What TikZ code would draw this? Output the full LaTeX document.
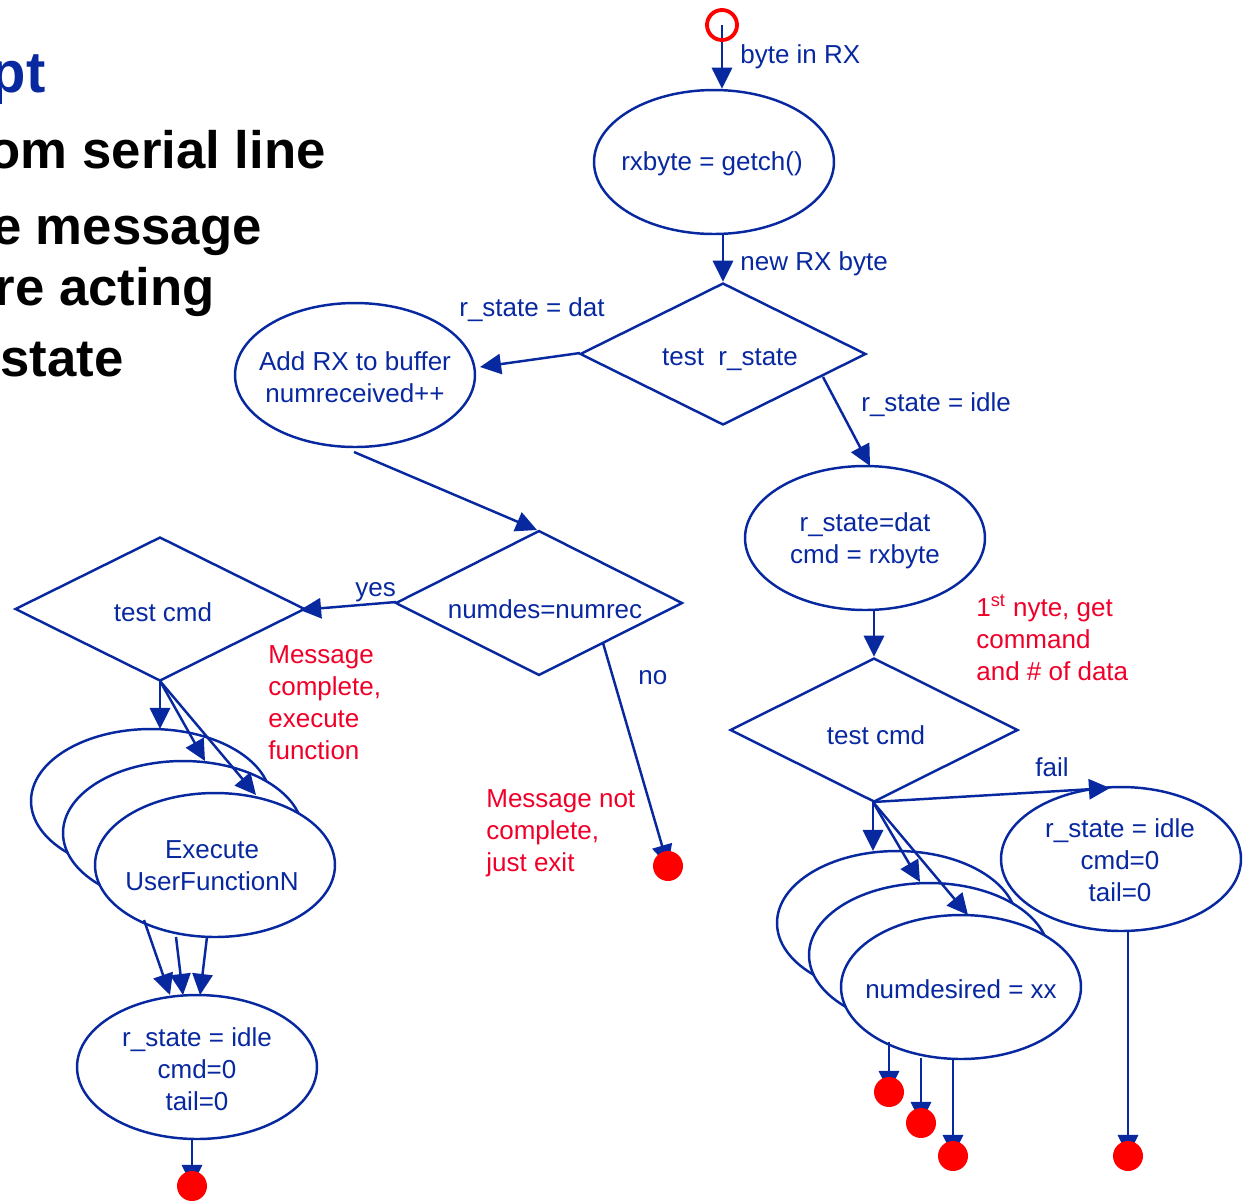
\documentclass[tikz,border=0pt]{standalone}
\usepackage{fontspec}
\setmainfont{Liberation Sans}
\usetikzlibrary{shapes.geometric,arrows.meta}
\definecolor{fblue}{RGB}{8,40,160}
\definecolor{fred}{RGB}{240,0,40}
\definecolor{dotred}{RGB}{255,0,0}
\newcommand\flowfont{\fontsize{14.8}{18.1}\selectfont}
\newcommand\headfont{\fontsize{30}{34}\selectfont\bfseries}
\newcommand\titlefont{\fontsize{33}{38}\selectfont\bfseries}
\tikzset{
  flow/.style={draw=fblue, line width=1.4pt, -{Triangle[length=12pt,width=11.5pt]}},
  ell/.style={ellipse, draw=fblue, line width=1.4pt, fill=white, minimum width=4.8cm,
    minimum height=2.88cm, inner sep=0pt},
  dia/.style={diamond, draw=fblue, line width=1.4pt, inner sep=0pt},
  lbl/.style={text=fblue, font=\flowfont, inner sep=0pt, align=center},
  lblw/.style={lbl, anchor=base west},
  note/.style={text=fred, font=\flowfont, inner sep=0pt, anchor=base west},
  enddot/.style={circle, fill=dotred, minimum size=0.6cm, inner sep=0pt},
  big/.style={font=\headfont, inner sep=0pt, anchor=base east},
}
\begin{document}
\begin{tikzpicture}[x=0.02cm,y=-0.02cm]
\useasboundingbox (0,0) rectangle (1247,1201);
\clip (0,0) rectangle (1247,1201);

% heading text at left (cut by page edge)
\node[big, font=\titlefont, text=fblue] (h0) at (46,92) {pt};
\node[big] (h1) at (326,168) {om serial line};
\node[big] (h2) at (262,244) {e message};
\node[big] (h3) at (215,305) {re acting};
\node[big] (h4) at (124,376) {state};

% ellipses
\node[ell] (e1) at (714,162) {};
\node[lbl] (e1t) at (712,164) {rxbyte = getch()};
\node[ell] (e2) at (355,375) {};
\node[lbl] (e2t) at (355,377) {Add RX to buffer\\numreceived++};
\node[ell] (e3) at (865,538) {};
\node[lbl] (e3t) at (865,541) {r\_state=dat\\cmd = rxbyte};
\node[ell] (ex1) at (151,801) {};
\node[ell] (ex2) at (183,833) {};
\node[ell] (ex3) at (215,865) {};
\node[lbl] (ex3t) at (212,866) {Execute\\UserFunctionN};
\node[ell] (e5) at (197,1067) {};
\node[lbl] (e5t) at (197,1069) {r\_state = idle\\cmd=0\\tail=0};
\node[ell] (nd1) at (897,923) {};
\node[ell] (nd2) at (929,955) {};
\node[ell] (nd3) at (961,987) {};
\node[lbl] (nd3t) at (961,989) {numdesired = xx};
\node[ell] (e6) at (1121,859) {};
\node[lbl] (e6t) at (1120,860) {r\_state = idle\\cmd=0\\tail=0};

% diamonds
\node[dia, minimum width=5.72cm, minimum height=2.84cm] (d1) at (723,354) {};
\node[lbl] (d1t) at (730,360) {test\ \ r\_state};
\node[dia, minimum width=5.74cm, minimum height=2.9cm] (d2) at (539,603) {};
\node[lbl] (d2t) at (545,609) {numdes=numrec};
\node[dia, minimum width=5.8cm, minimum height=2.88cm] (d3) at (160,609) {};
\node[lbl] (d3t) at (163,612) {test cmd};
\node[dia, minimum width=5.76cm, minimum height=2.88cm] (d4) at (874,730) {};
\node[lbl] (d4t) at (876,735) {test cmd};

% connector end points
\coordinate (s0) at (722,25);
\coordinate (a3s) at (580,353);
\coordinate (a3e) at (480,367);
\coordinate (a4s) at (354,452);
\coordinate (a4e) at (537,530);
\coordinate (a5s) at (823,377);
\coordinate (a5e) at (870,466);
\coordinate (a7s) at (396,602);
\coordinate (a7e) at (300,610);
\coordinate (a8s) at (603,643);
\coordinate (lb) at (160,681);
\coordinate (lt1) at (160,729);
\coordinate (lt2) at (205,761);
\coordinate (lt3) at (256,795);
\coordinate (lf1) at (144,920);
\coordinate (lf2) at (176,937);
\coordinate (lf3) at (207,937);
\coordinate (lg1) at (170,995);
\coordinate (lg2) at (183,995);
\coordinate (lg3) at (200,995);
\coordinate (rb) at (873,802);
\coordinate (rfail) at (1110,788);
\coordinate (rt1) at (873,851);
\coordinate (rt2) at (920,882);
\coordinate (rt3) at (968,915);
\coordinate (rf1) at (889,1042);
\coordinate (rf2) at (921,1058);
\coordinate (rf3) at (953,1059);
\coordinate (p0) at (668,866);
\coordinate (p1) at (192,1186);
\coordinate (p2) at (889,1092);
\coordinate (p3) at (921,1123);
\coordinate (p4) at (953,1156);
\coordinate (p5) at (1128,1156);

% connectors
\draw[flow] (s0) -- (e1.north -| s0);
\draw[flow] (e1.south -| d1.north) -- (d1.north);
\draw[flow] (a3s) -- (a3e);
\draw[flow] (a4s) -- (a4e);
\draw[flow] (a5s) -- (a5e);
\draw[flow] (e3.south -| d4.north) -- (d4.north);
\draw[flow] (a7s) -- (a7e);
\draw[flow] (a8s) -- (p0);
\draw[flow] (lb) -- (lt1);
\draw[flow] (lb) -- (lt2);
\draw[flow] (lb) -- (lt3);
\draw[flow] (lf1) -- (lg1);
\draw[flow] (lf2) -- (lg2);
\draw[flow] (lf3) -- (lg3);
\draw[flow] (e5.south -| p1) -- (p1);
\draw[flow] (rb) -- (rfail);
\draw[flow] (rb) -- (rt1);
\draw[flow] (rb) -- (rt2);
\draw[flow] (rb) -- (rt3);
\draw[flow] (rf1) -- (p2);
\draw[flow] (rf2) -- (p3);
\draw[flow] (rf3) -- (p4);
\draw[flow] (e6.south -| p5) -- (p5);

% start ring and end dots
\node[circle, draw=dotred, line width=2.2pt, minimum size=0.6cm, inner sep=0pt] (start) at (s0) {};
\node[enddot] (dot0) at (p0) {};
\node[enddot] (dot1) at (p1) {};
\node[enddot] (dot2) at (p2) {};
\node[enddot] (dot3) at (p3) {};
\node[enddot] (dot4) at (p4) {};
\node[enddot] (dot5) at (p5) {};

% connector labels
\node[lblw] (l1) at (740,63) {byte in RX};
\node[lblw] (l2) at (740,270) {new RX byte};
\node[lblw] (l3) at (459,316) {r\_state = dat};
\node[lblw] (l4) at (861,411) {r\_state = idle};
\node[lblw] (l5) at (355,596) {yes};
\node[lblw] (l6) at (638,684) {no};
\node[lblw] (l7) at (1035,776) {fail};

% red notes
\node[note] (n1a) at (268,663) {Message};
\node[note] (n1b) at (268,695) {complete,};
\node[note] (n1c) at (268,727) {execute};
\node[note] (n1d) at (268,759) {function};
\node[note] (n2a) at (486,807) {Message not};
\node[note] (n2b) at (486,839) {complete,};
\node[note] (n2c) at (486,871) {just exit};
\node[note] (n3a) at (976,616) {1\textsuperscript{st} nyte, get};
\node[note] (n3b) at (976,648) {command};
\node[note] (n3c) at (976,680) {and \# of data};
\end{tikzpicture}
\end{document}
